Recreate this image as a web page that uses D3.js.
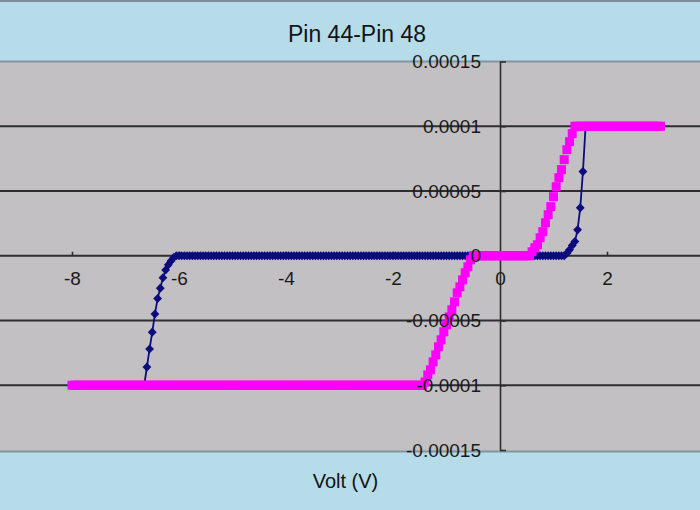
<!DOCTYPE html>
<html>
<head>
<meta charset="utf-8">
<script src="https://cdn.jsdelivr.net/npm/d3@7"></script>
<style>
  body { margin: 0; background: #b5dce8; }
  svg { display: block; font-family: "Liberation Sans", Arial, sans-serif; }
</style>
</head>
<body>
<script>
var W = 700, H = 510;

var TITLE  = 'Pin 44-Pin 48';
var XLABEL = 'Volt (V)';

var xTicks      = [-8, -6, -4, -2, 0, 2];
var yTicks      = [-0.00015, -0.0001, -0.00005, 0, 0.00005, 0.0001, 0.00015];
var yTickLabels = ['-0.00015', '-0.0001', '-0.00005', '0', '0.00005', '0.0001', '0.00015'];

// voltage sweep used for both pins
var sweepStart = -8, sweepEnd = 3, sweepStep = 0.05;

// series 1 (navy diamonds): flat stretches [from V, to V, current A]
var s1Flat  = [[-8, -6.70, -0.0001], [-6.05, 1.20, 0], [1.65, 3, 0.0001]];
// series 1 readings in the knees
var s1KneeV = [-6.65, -6.60, -6.55, -6.50, -6.45, -6.40, -6.35, -6.30, -6.25, -6.20, -6.15, -6.10,
               1.25, 1.30, 1.35, 1.40, 1.45, 1.50, 1.55, 1.60];
var s1KneeI = [-1.0e-4, -8.6e-5, -7.2e-5, -5.9e-5, -4.5e-5, -3.3e-5, -2.5e-5, -1.7e-5, -1.1e-5, -7e-6, -4e-6, -1.5e-6,
               2e-6, 4.6e-6, 8e-6, 1.1e-5, 2.0e-5, 3.7e-5, 6.5e-5, 1.0e-4];

// series 2 (magenta squares)
var s2Flat  = [[-8, -1.45, -0.0001], [-0.50, 0.55, 0], [1.45, 3, 0.0001]];
var s2KneeV = [-1.40, -1.35, -1.30, -1.25, -1.20, -1.15, -1.10, -1.05, -1.00, -0.95, -0.90, -0.85, -0.80, -0.75, -0.70, -0.65, -0.60, -0.55,
               0.60, 0.65, 0.70, 0.75, 0.80, 0.85, 0.90, 0.95, 1.00, 1.05, 1.10, 1.15, 1.20, 1.25, 1.30, 1.35, 1.40];
var s2KneeI = [-9.74e-5, -9.20e-5, -8.81e-5, -8.19e-5, -7.65e-5, -7.03e-5, -6.49e-5, -5.87e-5, -5.33e-5, -4.72e-5, -4.17e-5, -3.56e-5, -2.86e-5, -2.40e-5, -1.86e-5, -1.31e-5, -8.5e-6, -3.1e-6,
               3.1e-6, 6.2e-6, 8.5e-6, 1.39e-5, 1.86e-5, 2.55e-5, 3.17e-5, 3.79e-5, 4.56e-5, 5.33e-5, 6.03e-5, 6.65e-5, 7.42e-5, 8.19e-5, 8.81e-5, 9.43e-5, 1.0e-4];

var buildSeries = function (flat, kneeV, kneeI) {
  var pts = [];
  var n = Math.round((sweepEnd - sweepStart) / sweepStep);
  for (var k = 0; k <= n; k++) {
    var v = Math.round((sweepStart + k * sweepStep) * 100) / 100;
    flat.forEach(function (f) {
      if (v >= f[0] - 1e-9 && v <= f[1] + 1e-9) pts.push({ v: v, i: f[2] });
    });
  }
  kneeV.forEach(function (v, j) { pts.push({ v: v, i: kneeI[j] }); });
  pts.sort(function (a, b) { return a.v - b.v; });
  return pts;
};

var s1 = buildSeries(s1Flat, s1KneeV, s1KneeI);
var s2 = buildSeries(s2Flat, s2KneeV, s2KneeI);

var PLOT_TOP = 61.5, PLOT_BOTTOM = 451.5;
var NAVY = '#0c0c7e', MAGENTA = '#ff00ff', INK = '#1a1a1a';

var x = d3.scaleLinear().domain([-8, 2]).range([72, 607]);
var y = d3.scaleLinear().domain([-0.00015, 0.00015]).range([450, 61.5]);

var svg = d3.select('body').append('svg').attr('width', W).attr('height', H);

// background bands
svg.append('rect').attr('width', W).attr('height', H).attr('fill', '#b5dce8');
svg.append('rect').attr('width', W).attr('height', 2).attr('fill', '#7d8e99');
svg.append('rect')
  .attr('x', 0).attr('y', PLOT_TOP)
  .attr('width', W).attr('height', PLOT_BOTTOM - PLOT_TOP)
  .attr('fill', '#c2c0c3');
[PLOT_TOP, PLOT_BOTTOM].forEach(function (yy) {
  svg.append('line')
    .attr('x1', 0).attr('x2', W).attr('y1', yy).attr('y2', yy)
    .attr('stroke', '#84949e').attr('stroke-width', 2);
});

// gridlines
svg.append('g')
  .selectAll('line')
  .data(yTicks.filter(function (d) { return Math.abs(d) < 0.00014; }))
  .enter()
  .append('line')
  .attr('x1', 0).attr('x2', W)
  .attr('y1', function (d) { return y(d); })
  .attr('y2', function (d) { return y(d); })
  .attr('stroke', '#2e2e2e')
  .attr('stroke-width', 1.8);

// y axis line with ticks to the right
var yAxisG = svg.append('g')
  .attr('transform', 'translate(' + x(0) + ',0)')
  .call(d3.axisRight(y).tickValues(yTicks).tickSize(6).tickSizeOuter(0).tickFormat(''));
yAxisG.select('.domain').attr('stroke', '#2e2e2e').attr('stroke-width', 1.6);
yAxisG.selectAll('.tick line').attr('stroke', '#2e2e2e').attr('stroke-width', 1.6);

// x axis tick marks above the line
var xAxisG = svg.append('g')
  .attr('transform', 'translate(0,' + y(0) + ')')
  .call(d3.axisTop(x).tickValues(xTicks).tickSize(4).tickSizeOuter(0).tickFormat(''));
xAxisG.select('.domain').remove();
xAxisG.selectAll('.tick line').attr('stroke', '#2e2e2e').attr('stroke-width', 1.6);

// series 1: line + diamonds
var line = d3.line()
  .x(function (d) { return x(d.v); })
  .y(function (d) { return y(d.i); });

svg.append('path')
  .datum(s1)
  .attr('d', line)
  .attr('fill', 'none')
  .attr('stroke', NAVY)
  .attr('stroke-width', 1.8);

svg.append('g')
  .selectAll('path')
  .data(s1)
  .enter()
  .append('path')
  .attr('d', 'M0,-4.6L4.4,0L0,4.6L-4.4,0Z')
  .attr('transform', function (d) { return 'translate(' + x(d.v) + ',' + y(d.i) + ')'; })
  .attr('fill', NAVY);

// series 2: magenta squares
svg.append('g')
  .selectAll('rect')
  .data(s2)
  .enter()
  .append('rect')
  .attr('x', function (d) { return x(d.v) - 4.5; })
  .attr('y', function (d) { return y(d.i) - 4.5; })
  .attr('width', 9)
  .attr('height', 9)
  .attr('fill', MAGENTA);

// tick labels on top
var yLab = svg.append('g')
  .attr('transform', 'translate(' + x(0) + ',0)')
  .call(d3.axisLeft(y).tickValues(yTicks).tickSize(0).tickPadding(19)
    .tickFormat(function (d, i) { return yTickLabels[i]; }));
yLab.select('.domain').remove();
yLab.selectAll('text')
  .attr('font-family', '"Liberation Sans", Arial, sans-serif')
  .attr('font-size', 19)
  .attr('fill', INK);

var xLab = svg.append('g')
  .attr('transform', 'translate(0,' + y(0) + ')')
  .call(d3.axisBottom(x).tickValues(xTicks).tickSize(0).tickPadding(16)
    .tickFormat(d3.format('d')));
xLab.select('.domain').remove();
xLab.selectAll('text')
  .text(function (d) { return String(d); })
  .attr('font-family', '"Liberation Sans", Arial, sans-serif')
  .attr('font-size', 19)
  .attr('fill', INK);

// titles
svg.append('text')
  .attr('x', 357).attr('y', 42)
  .attr('text-anchor', 'middle')
  .attr('font-size', 23)
  .attr('fill', '#141414')
  .text(TITLE);

svg.append('text')
  .attr('x', 345.5).attr('y', 488)
  .attr('text-anchor', 'middle')
  .attr('font-size', 20)
  .attr('fill', '#141414')
  .text(XLABEL);
</script>
</body>
</html>
